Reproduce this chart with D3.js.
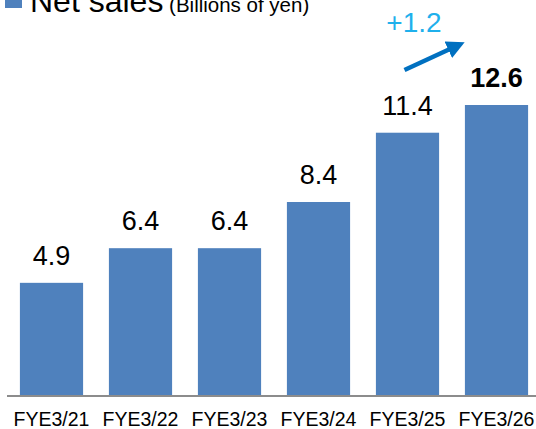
<!DOCTYPE html>
<html>
<head>
<meta charset="utf-8">
<script src="https://cdn.jsdelivr.net/npm/d3@7"></script>
<style>
  body { margin: 0; background: #fff; }
  text { font-family: "Liberation Sans", Arial, sans-serif; }
</style>
</head>
<body>
<div class="chart"></div>
<script>
// data
const categories = ['FYE3/21', 'FYE3/22', 'FYE3/23', 'FYE3/24', 'FYE3/25', 'FYE3/26'];
const sales = [4.9, 6.4, 6.4, 8.4, 11.4, 12.6];
const labels = ['4.9', '6.4', '6.4', '8.4', '11.4', '12.6'];
const growthLabel = '+1.2';

const width = 536, height = 429;
const baseY = 396;

const svg = d3.select('.chart').append('svg')
  .attr('width', width).attr('height', height);

// scales
const x = d3.scaleBand().domain(categories).range([7, 541])
  .paddingInner(0.29).paddingOuter(0.145);
const y = d3.scaleLinear().domain([0, 12.6]).range([baseY, 105]);

// bars
svg.append('g').selectAll('rect').data(sales).enter()
  .append('rect')
  .attr('x', (d, i) => x(categories[i]))
  .attr('y', d => y(d))
  .attr('width', x.bandwidth())
  .attr('height', d => baseY - y(d))
  .attr('fill', '#4f81bd');

// value labels, last one bold
svg.append('g').selectAll('text').data(sales).enter()
  .append('text')
  .attr('x', (d, i) => x(categories[i]) + x.bandwidth() / 2)
  .attr('y', d => y(d) - 18)
  .attr('text-anchor', 'middle')
  .style('font-size', '27px')
  .style('font-weight', (d, i) => i === sales.length - 1 ? 'bold' : 'normal')
  .style('fill', '#000')
  .text((d, i) => labels[i]);

// x axis (line only + labels)
const xAxis = d3.axisBottom(x).tickSize(0).tickPadding(16);
const xg = svg.append('g').attr('transform', `translate(0,${baseY})`).call(xAxis);
xg.select('.domain').attr('d', `M7,0H${width}`).attr('stroke', '#8c8c8c').attr('stroke-width', 2);
xg.selectAll('text').style('font-size', '19.5px').style('fill', '#000')
  .style('font-family', '"Liberation Sans", Arial, sans-serif');

// header (cut off at the top in the original)
svg.append('rect').attr('x', 5).attr('y', -8).attr('width', 17).attr('height', 16).attr('fill', '#4f81bd');
const header = svg.append('text').attr('x', 30).attr('y', 12);
header.append('tspan').text('Net sales').style('font-size', '32px');
header.append('tspan').text(' (Billions of yen)').style('font-size', '20.5px');

// growth arrow between the last two bars
const c5 = x(categories[4]) + x.bandwidth() / 2;
const c6 = x(categories[5]) + x.bandwidth() / 2;
svg.append('defs').append('marker')
  .attr('id', 'head').attr('viewBox', '0 0 10 10')
  .attr('refX', 5).attr('refY', 5)
  .attr('markerWidth', 4).attr('markerHeight', 4)
  .attr('orient', 'auto')
  .append('path').attr('d', 'M0,0L10,5L0,10Z').attr('fill', '#0070c0');
svg.append('line')
  .attr('x1', c5 - 3).attr('y1', 70)
  .attr('x2', c5 + 49).attr('y2', 46)
  .attr('stroke', '#0070c0').attr('stroke-width', 4.5)
  .attr('marker-end', 'url(#head)');
svg.append('text')
  .attr('x', (c5 + c6) / 2 - 38).attr('y', 32)
  .attr('text-anchor', 'middle')
  .style('font-size', '28px').style('fill', '#1fb0ec')
  .text(growthLabel);
</script>
</body>
</html>
